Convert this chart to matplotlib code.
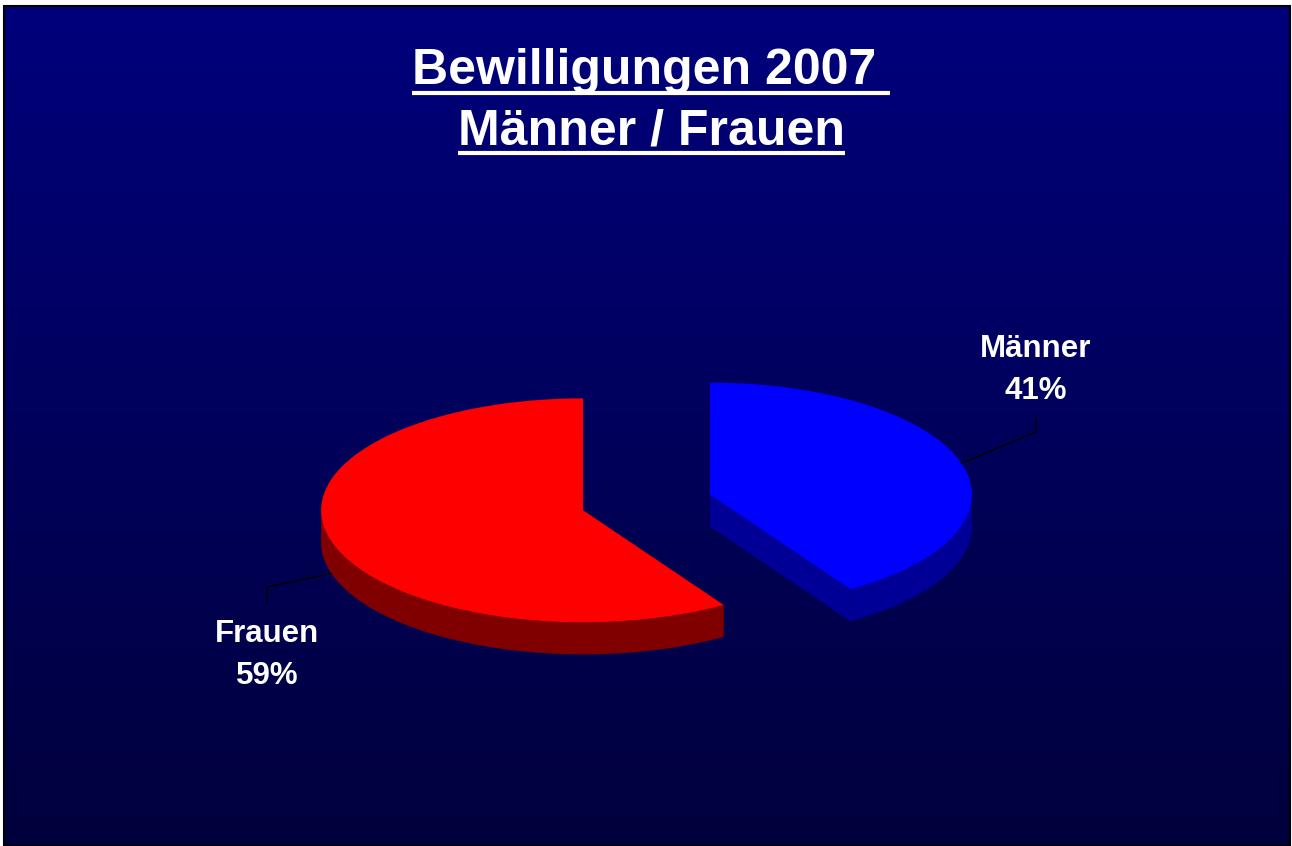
import numpy as np
import matplotlib.pyplot as plt
from matplotlib.patches import Polygon, Rectangle
from matplotlib.colors import LinearSegmentedColormap

# data
labels = ['Männer', 'Frauen']
shares = [41, 59]
top_colors = ['#0000ff', '#ff0000']
side_colors = ['#000096', '#800000']
title_lines = ['Bewilligungen 2007 ', 'Männer / Frauen']

W, H = 1292, 846
fig = plt.figure(figsize=(W / 100, H / 100), dpi=100)
fig.patch.set_facecolor('white')
ax = fig.add_axes([0, 0, 1, 1])
ax.set_xlim(0, W)
ax.set_ylim(H, 0)
ax.axis('off')

# gradient background
bx0, by0, bx1, by1 = 4, 6, 1290, 846
grad = np.linspace(0, 1, 256).reshape(-1, 1)
cmap = LinearSegmentedColormap.from_list('bg', ['#00007c', '#00003c'])
ax.imshow(grad, cmap=cmap, aspect='auto', extent=(bx0, bx1, by1, by0), zorder=0)
ax.add_patch(Rectangle((bx0, by0), bx1 - bx0, by1 - by0, fill=False,
                       edgecolor='black', lw=1.5, zorder=1))

# 3d pie geometry
cx0, cy0 = 646.5, 502.5
a, b, depth = 262, 112, 32
explode = 0.252


def pt(cx, cy, th, dy=0):
    t = np.radians(th)
    return cx + a * np.sin(t), cy - b * np.cos(t) + dy


angles = np.cumsum([0] + [s / 100 * 360 for s in shares])
for i in range(len(shares)):
    t0, t1 = angles[i], angles[i + 1]
    tm = (t0 + t1) / 2
    cx = cx0 + explode * a * np.sin(np.radians(tm))
    cy = cy0 - explode * b * np.cos(np.radians(tm))

    # radial faces
    for th in (t0, t1):
        p = pt(cx, cy, th)
        quad = [(cx, cy), p, (p[0], p[1] + depth), (cx, cy + depth)]
        ax.add_patch(Polygon(quad, closed=True, facecolor=side_colors[i],
                             edgecolor='none', zorder=2))
    # outer wall (front half only)
    w0, w1 = max(t0, 90), min(t1, 270)
    if w1 > w0:
        ths = np.linspace(w0, w1, 120)
        upper = [pt(cx, cy, th) for th in ths]
        lower = [pt(cx, cy, th, depth) for th in ths[::-1]]
        ax.add_patch(Polygon(upper + lower, closed=True, facecolor=side_colors[i],
                             edgecolor='none', zorder=3))
    # top face
    ths = np.linspace(t0, t1, 200)
    top = [(cx, cy)] + [pt(cx, cy, th) for th in ths]
    ax.add_patch(Polygon(top, closed=True, facecolor=top_colors[i],
                         edgecolor='none', zorder=4))

    # leader line and label
    if i == 0:
        sx, sy = pt(cx, cy, tm)
        ax.plot([sx, 1036, 1036], [sy, 432, 418], color='black', lw=1, zorder=5)
        lx, ly = 1036, 370
    else:
        sx, sy = pt(cx, cy, tm, depth)
        ax.plot([sx, 267, 267], [sy, 587, 602], color='black', lw=1, zorder=5)
        lx, ly = 267, 655
    ax.text(lx, ly, f'{labels[i]}\n{shares[i]}%', color='white', ha='center',
            va='center', fontsize=22.5, fontweight='bold', family='Liberation Sans',
            linespacing=1.5, zorder=6)

# title with underline
fig.canvas.draw()
renderer = fig.canvas.get_renderer()
for line, yc, yu in zip(title_lines, [71, 132], [93, 153]):
    t = ax.text(W / 2 + 5, yc, line, color='white', ha='center', va='center',
                fontsize=36, fontweight='bold', family='Liberation Sans', zorder=6)
    bb = t.get_window_extent(renderer).transformed(ax.transData.inverted())
    x0, x1 = min(bb.x0, bb.x1), max(bb.x0, bb.x1)
    ax.plot([x0, x1], [yu, yu], color='white', lw=3, zorder=6,
            solid_capstyle='butt')

fig.savefig('out.png', dpi=100, facecolor=fig.get_facecolor())
